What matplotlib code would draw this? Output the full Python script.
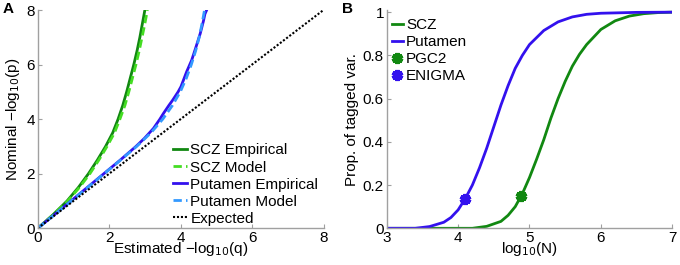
import matplotlib
matplotlib.use("Agg")
import matplotlib.pyplot as plt

plt.rcParams['font.family'] = ['Liberation Sans', 'DejaVu Sans']

# ---------------- Panel A data (QQ curves) ----------------
scz_emp_y = [0, 0.5, 1.0, 1.5, 2.0, 2.5, 3.0, 3.5, 4.0, 4.5, 5.0, 5.5, 6.0, 6.5, 7.0, 7.5, 8.0]
scz_emp_x = [0, 0.43, 0.82, 1.14, 1.42, 1.67, 1.90, 2.10, 2.25, 2.38, 2.49, 2.59, 2.69, 2.78, 2.86, 2.93, 3.0]
scz_mod_y = [0, 0.5, 1.0, 1.5, 2.0, 2.5, 3.0, 3.5, 4.0, 4.5, 5.0, 5.5, 6.0, 6.5, 7.0, 7.5, 8.0]
scz_mod_x = [0, 0.44, 0.84, 1.17, 1.46, 1.71, 1.94, 2.15, 2.30, 2.44, 2.55, 2.65, 2.75, 2.84, 2.92, 3.0, 3.07]

put_emp_y = [0, 0.5, 1.0, 1.5, 2.0, 2.5, 3.0, 3.3, 3.66, 4.0, 4.21, 4.5, 4.7, 5.0, 5.19, 5.5,
             5.74, 6.16, 6.6, 7.14, 7.6, 7.85, 8.0]
put_emp_x = [0, 0.47, 0.93, 1.39, 1.85, 2.31, 2.75, 2.99, 3.24, 3.42, 3.52, 3.67, 3.78, 3.93,
             4.01, 4.10, 4.17, 4.31, 4.42, 4.55, 4.64, 4.68, 4.73]
put_mod_y = [0, 0.5, 1.0, 1.5, 2.0, 2.5, 3.0, 3.5, 4.0, 4.5, 5.0, 5.5, 6.0, 6.5, 7.0, 7.5, 8.0]
put_mod_x = [0, 0.47, 0.94, 1.40, 1.86, 2.32, 2.77, 3.17, 3.50, 3.77, 3.99, 4.16, 4.30, 4.42, 4.52, 4.60, 4.67]

exp_x = [0, 8]
exp_y = [0, 8]

# ---------------- Panel B data ----------------
put_n = [3.0, 3.4, 3.6, 3.8, 3.9, 4.0, 4.1, 4.2, 4.3, 4.4, 4.5, 4.6, 4.7, 4.8, 4.9, 5.0,
         5.2, 5.4, 5.6, 5.8, 6.0, 6.5, 7.0]
put_prop = [0, 0.0, 0.008, 0.028, 0.05, 0.085, 0.137, 0.2, 0.28, 0.37, 0.47, 0.57, 0.66,
            0.74, 0.80, 0.85, 0.915, 0.955, 0.978, 0.99, 0.995, 0.999, 1.0]
scz_n = [3.0, 4.2, 4.4, 4.6, 4.7, 4.8, 4.9, 5.0, 5.1, 5.2, 5.3, 5.4, 5.5, 5.6, 5.7, 5.8,
         6.0, 6.2, 6.4, 6.6, 6.8, 7.0]
scz_prop = [0, 0.0, 0.009, 0.032, 0.06, 0.1, 0.16, 0.235, 0.32, 0.41, 0.51, 0.6, 0.68,
            0.75, 0.805, 0.85, 0.92, 0.96, 0.982, 0.993, 0.998, 1.0]
pgc2_pt = (4.88, 0.149)
enigma_pt = (4.10, 0.137)

c_scz = '#118811'
c_scz_mod = '#44dd22'
c_put = '#3311ee'
c_put_mod = '#3399ff'
c_axis = '#a0a0a0'
fs = 11

fig = plt.figure(figsize=(6.8, 2.65), dpi=100)

def style(ax):
    for s in ['top', 'right']:
        ax.spines[s].set_visible(False)
    for s in ['left', 'bottom']:
        ax.spines[s].set_color(c_axis)
        ax.spines[s].set_linewidth(1.0)
    ax.tick_params(direction='in', color=c_axis, length=3, labelsize=fs, pad=2)

axA = fig.add_axes([37.7/680, 36.7/265, 285.8/680, 218.3/265])
style(axA)
axA.plot(scz_emp_x, scz_emp_y, color=c_scz, lw=2, label='SCZ Empirical')
axA.plot(scz_mod_x, scz_mod_y, color=c_scz_mod, lw=2, dashes=(3, 1.5), label='SCZ Model')
axA.plot(put_emp_x, put_emp_y, color=c_put, lw=2, label='Putamen Empirical')
axA.plot(put_mod_x, put_mod_y, color=c_put_mod, lw=2, dashes=(3, 1.5), label='Putamen Model')
axA.plot(exp_x, exp_y, color='black', lw=1.5, linestyle=(0, (1, 0.9)), label='Expected')
axA.set_xlim(0, 8)
axA.set_ylim(0, 8)
axA.set_xticks([0, 2, 4, 6, 8])
axA.set_yticks([0, 2, 4, 6, 8])
axA.set_xlabel('Estimated \u2212log$_{10}$(q)', fontsize=fs, labelpad=-4)
axA.set_ylabel('Nominal \u2212log$_{10}$(p)', fontsize=fs, labelpad=3)
axA.legend(loc='lower left', bbox_to_anchor=(135/285.8, 0.012), frameon=False, fontsize=fs,
           handlelength=0.95, handletextpad=0.2, labelspacing=0.2, borderaxespad=0.0,
           borderpad=0.0)
fig.text(3/680, 1 - 2/265, 'A', fontsize=11, fontweight='bold', va='top', ha='left')

axB = fig.add_axes([386.7/680, 36.7/265, 285.6/680, 218.3/265])
style(axB)
axB.plot(scz_n, scz_prop, color=c_scz, lw=2, label='SCZ')
axB.plot(put_n, put_prop, color=c_put, lw=2, label='Putamen')
axB.plot([pgc2_pt[0]], [pgc2_pt[1]], linestyle='none', marker=(6, 2, 0), ms=8, mew=3,
         color=c_scz, label='PGC2')
axB.plot([enigma_pt[0]], [enigma_pt[1]], linestyle='none', marker=(6, 2, 0), ms=8, mew=3,
         color=c_put, label='ENIGMA')
axB.set_xlim(3, 7)
axB.set_ylim(0, 1.01)
axB.set_xticks([3, 4, 5, 6, 7])
axB.set_yticks([0, 0.2, 0.4, 0.6, 0.8, 1.0])
axB.set_yticklabels(['0', '0.2', '0.4', '0.6', '0.8', '1'])
axB.set_xlabel('log$_{10}$(N)', fontsize=fs, labelpad=-4)
axB.set_ylabel('Prop. of tagged var.', fontsize=fs, labelpad=3)
axB.legend(loc='upper left', bbox_to_anchor=(5/285.6, 0.962), frameon=False, fontsize=fs,
           handlelength=0.75, handletextpad=0.2, labelspacing=0.2, borderaxespad=0.0,
           borderpad=0.0)
fig.text(342/680, 1 - 2/265, 'B', fontsize=11, fontweight='bold', va='top', ha='left')

fig.savefig('out.png', dpi=100)
